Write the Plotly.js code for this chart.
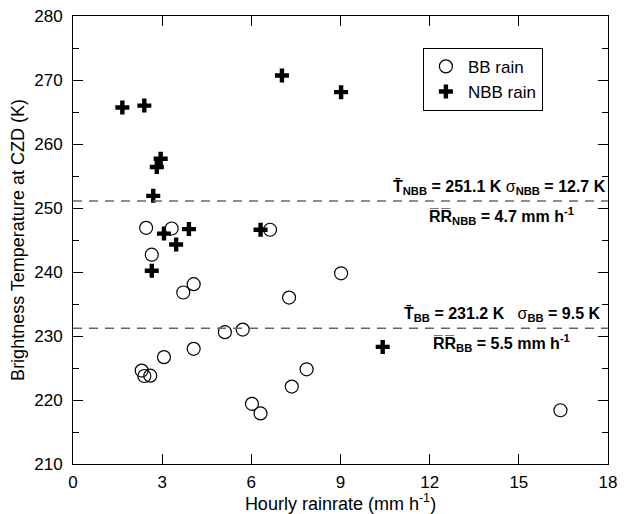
<!DOCTYPE html>
<html>
<head>
<meta charset="utf-8">
<script src="https://cdn.plot.ly/plotly-3.0.1.min.js"></script>
<style>html,body{margin:0;padding:0;background:#fff}#chart{width:627px;height:514px}</style>
</head>
<body>
<div id="chart"></div>
<script>
// BB rain (open circles)
const bbRain = [2.46, 3.32, 6.63, 2.65, 9.02, 4.06, 3.71, 7.27, 5.71, 5.11, 4.06, 3.06, 2.31, 2.40, 2.60, 7.86, 7.36, 6.02, 6.31, 16.4];
const bbTemp = [246.9, 246.8, 246.6, 242.7, 239.8, 238.1, 236.8, 236.0, 231.0, 230.6, 228.0, 226.7, 224.6, 223.75, 223.8, 224.8, 222.1, 219.4, 217.9, 218.4];
// NBB rain (plus)
const nbbRain = [1.66, 2.40, 7.03, 9.02, 2.95, 2.82, 2.70, 3.06, 3.90, 3.47, 2.65, 6.31, 10.42];
const nbbTemp = [265.7, 266.0, 270.7, 268.1, 257.7, 256.4, 251.9, 246.0, 246.7, 244.3, 240.2, 246.6, 228.3];
// mean lines
const meanNames = ["NBB", "BB"];
const meanTemp = [251.1, 231.2];
const sigmaTemp = [12.7, 9.5];
const meanRR = [4.7, 5.5];
const xTicks = [0, 3, 6, 9, 12, 15, 18];
const yTicks = [210, 220, 230, 240, 250, 260, 270, 280];

const FONT = "Liberation Sans, Arial, sans-serif";

const traces = [
  {x: bbRain, y: bbTemp, type: "scatter", mode: "markers", name: "BB rain",
   marker: {symbol: "circle-open", size: 13, color: "#000", line: {color: "#000", width: 1.2}}},
  {x: nbbRain, y: nbbTemp, type: "scatter", mode: "markers", name: "NBB rain",
   marker: {symbol: "cross-thin-open", size: 10, color: "#000", line: {color: "#000", width: 4.4}}}
];

const shapes = meanTemp.map(t => ({type: "line", xref: "paper", x0: 0, x1: 1, yref: "y", y0: t, y1: t,
  line: {color: "#666", width: 1.5, dash: "9px,7px"}}));

const ov = s => s.split("").map(c => c + "\u0305").join("");
const annotations = [];
const line1Gap = ["&nbsp;", "&nbsp;&nbsp;&nbsp;"];
meanNames.forEach((n, i) => {
  annotations.push({xref: "paper", yref: "y", x: 1, y: meanTemp[i], xanchor: "right", yanchor: "bottom",
    yshift: 2, xshift: i === 0 ? 0 : -5, showarrow: false,
    text: "<b>T\u0304<sub>" + n + "</sub> = " + meanTemp[i].toFixed(1) + " K</b>" + line1Gap[i] + "<span style='font-weight:normal'>σ</span><b><sub>" + n + "</sub> = " + sigmaTemp[i] + " K</b>",
    font: {family: FONT, size: 16, color: "#000"}});
  annotations.push({xref: "paper", yref: "y", x: i === 0 ? 0.80 : 0.80, y: meanTemp[i], xanchor: "center", yanchor: "top",
    yshift: -2, showarrow: false,
    text: "<b>" + ov("RR") + "<sub>" + n + "</sub> = " + meanRR[i] + " mm h<sup>-1</sup></b>",
    font: {family: FONT, size: 16, color: "#000"}});
});

const layout = {
  width: 627, height: 514,
  margin: {l: 73, r: 19, t: 16, b: 50},
  paper_bgcolor: "#fff", plot_bgcolor: "#fff",
  font: {family: FONT, color: "#000", size: 17},
  showlegend: true,
  legend: {x: 0.654, y: 0.929, xanchor: "left", yanchor: "top", bordercolor: "#000", borderwidth: 1,
    bgcolor: "#fff", font: {family: FONT, size: 17}, itemwidth: 34, tracegroupgap: 0},
  xaxis: {range: [0, 18], tickvals: xTicks, ticktext: xTicks.map(String), ticks: "inside", ticklen: 10,
    tickcolor: "#000", showline: true, linecolor: "#000", linewidth: 1, mirror: "allticks",
    showgrid: false, zeroline: false, tickfont: {size: 17}, ticklabelstandoff: 3,
    title: {text: "Hourly rainrate (mm h<sup>-1</sup>)", font: {size: 18}, standoff: 2}},
  yaxis: {range: [210, 280], tickvals: yTicks, ticktext: yTicks.map(String), ticks: "inside", ticklen: 10,
    tickcolor: "#000", showline: true, linecolor: "#000", linewidth: 1, mirror: "allticks",
    showgrid: false, zeroline: false, tickfont: {size: 17}, ticklabelstandoff: 6,
    minor: {dtick: 5, tick0: 215, ticks: "inside", ticklen: 6, tickcolor: "#000", showgrid: false},
    title: {text: "Brightness Temperature at CZD (K)", font: {size: 18}, standoff: 4}},
  shapes: shapes,
  annotations: annotations
};

Plotly.newPlot("chart", traces, layout, {displayModeBar: false, staticPlot: true});
</script>
</body>
</html>
